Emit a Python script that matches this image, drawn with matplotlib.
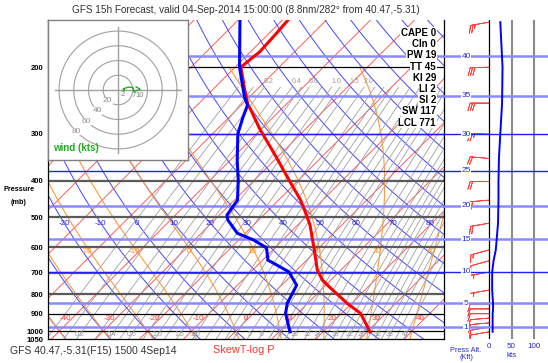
import numpy as np
import matplotlib.pyplot as plt
from matplotlib.ticker import NullLocator

plt.rcParams['font.family'] = ['Liberation Sans', 'DejaVu Sans']

# sounding: pressure (mb), temperature and dewpoint (C)
p_temp = [150, 163, 182, 200, 226, 252, 257, 291, 346, 398, 450, 488, 524, 604,
          690, 733, 763, 845, 898, 954, 1005]
temp = [-58.7, -58.3, -57.9, -58.7, -53.4, -48.5, -47.3, -40.5, -30.3, -22.2, -15.0,
        -10.8, -7.2, -1.0, 4.7, 8.1, 11.1, 19.0, 24.3, 27.7, 30.6]
p_dew = [150, 200, 240, 252, 271, 300, 353, 398, 450, 493, 508, 551, 574, 602, 649,
         662, 697, 756, 845, 898, 984, 1005]
dewp = [-69.6, -59.0, -51.1, -48.6, -46.9, -44.3, -38.4, -33.7, -29.3, -28.3, -27.0,
        -21.8, -16.6, -11.9, -8.8, -6.7, -1.4, 3.4, 5.4, 7.3, 11.5, 12.5]

# winds
p_wind = [152, 200, 249, 301, 349, 402, 450, 518, 610, 652, 698, 779, 848, 874, 900,
          924, 952, 976, 1005]
wdir = [260, 268, 270, 272, 275, 270, 265, 260, 255, 255, 260, 260, 270, 270, 270,
        265, 265, 260, 260]
wspd = [25, 30, 29, 25, 22, 21, 21, 20, 15, 10, 7, 7, 9, 9, 8, 8, 8, 8, 8]
hodo_label_p = [779, 402, 249]

# indices box
idx_names = ['CAPE', 'CIn', 'PW', 'TT', 'KI', 'LI', 'SI', 'SW', 'LCL']
idx_vals = [0, 0, 19, 45, 29, 2, 2, 117, 771]

p_levels = [200, 300, 400, 500, 600, 700, 800, 900, 1000, 1050]
alt_kft = [1, 5, 10, 15, 20, 25, 30, 35, 40]
isotherm_labels = [-40, -30, -20, -10, 0, 10, 20, 30, 40]
theta_labels = [-20, -10, 0, 10, 20, 30, 40, 50, 60, 70, 80]
thw_labels = [-20, -10, 0, 10, 20, 30, 40]
mix_ratios = [0.1, 0.15, 0.2, 0.3, 0.4, 0.5, 0.6, 0.8, 1.0, 1.2, 1.5, 2.0, 2.5, 3, 3.5,
              4, 5, 6, 7, 8, 9, 10, 12, 14, 16, 18, 20, 22, 24, 26, 29, 32, 35, 38, 42, 47]
mix_labels_bottom = ['0.2', '0.4', '0.6', '1.0', '1.5', '2.0', '4', '5', '6', '7', '8',
                     '10', '12', '14', '18', '22', '26', '32', '38', '47']
mix_labels_top = ['0.1', '0.2', '0.4', '0.6', '1.0', '1.5', '2.0']
hodo_rings = [20, 40, 60, 80]

W, H = 548, 363
fig = plt.figure(figsize=(W / 100, H / 100), dpi=100)


def frect(x0, y0, x1, y1):
    return [x0 / W, 1 - y1 / H, (x1 - x0) / W, (y1 - y0) / H]


K = 164 / 4.41


def skew(t, p):
    return np.asarray(t, dtype=float) + K * np.log(900.0 / np.asarray(p, dtype=float))


def lapse(t, p):
    es = 6.112 * np.exp(17.67 * (t - 273.15) / (t - 29.65))
    rs = 0.622 * es / (p - es)
    return (287.04 * t + 2.501e6 * rs) / (p * (1005.7 + 2.501e6 ** 2 * rs * 0.622 / (287.04 * t * t)))


def integrate(t0, p_from, p_to, step):
    ps = np.arange(p_from, p_to, step, dtype=float)
    ts = [t0]
    for i in range(1, len(ps)):
        p0, dp, t = ps[i - 1], ps[i] - ps[i - 1], ts[-1]
        k1 = lapse(t, p0)
        k2 = lapse(t + k1 * dp, p0 + dp)
        ts.append(t + 0.5 * (k1 + k2) * dp)
    return ps, np.array(ts)


def moist_line(tw):
    pu, tu = integrate(tw + 273.15, 1000, 199, -5)
    pd, td = integrate(tw + 273.15, 1000, 1051, 5)
    return np.concatenate([pd[::-1], pu[1:]]), np.concatenate([td[::-1], tu[1:]]) - 273.15


def dewpoint_of_w(w, p):
    e = w * p / (622.0 + w)
    g = np.log(e / 6.112)
    return 243.5 * g / (17.67 - g)


def alt_to_p(kft):
    return 1013.25 * (1 - 6.8756e-6 * kft * 1000) ** 5.2559


# ---------------- main skew-T
ax = fig.add_axes(frect(48, 20, 444, 339))
ax.set_yscale('log')
ax.set_ylim(1050, 150)
ax.set_xlim(-46.5, 43.3)
ax.set_xticks([])
ax.yaxis.set_minor_locator(NullLocator())
ax.set_yticks(p_levels)
ax.set_yticklabels([str(p) for p in p_levels], fontsize=5.5, fontweight='bold')
ax.tick_params(axis='y', length=0, pad=3)
for s in ax.spines.values():
    s.set_linewidth(0.9)
ax.spines['top'].set_visible(False)

pp = np.geomspace(1050, 150, 80)
for t in range(-130, 60, 10):
    ax.plot(skew(t, [1050, 150]), [1050, 150], color='#ff5c5c', lw=0.7, zorder=1)
for th in range(-60, 170, 10):
    tk = (th + 273.15) * (pp / 1000) ** 0.2857 - 273.15
    ax.plot(skew(tk, pp), pp, color='#4646ff', lw=0.7, zorder=1)
for tw in range(-40, 51, 10):
    mp, mt = moist_line(tw)
    ax.plot(skew(mt, mp), mp, color='#ff9a3c', lw=0.8, zorder=1)
pm = np.geomspace(1050, 226, 40)
for w in mix_ratios:
    ax.plot(skew(dewpoint_of_w(w, pm), pm), pm, color='#a0a0a0', lw=0.6, zorder=1)

for p in [200, 300, 900, 1000]:
    ax.axhline(p, color='black', lw=0.9, zorder=2)
for p in [400, 500, 600, 700, 800]:
    ax.axhline(p, color='#5a5a5a', lw=1.6, zorder=2)

for k in alt_kft:
    dark = k in (10, 25, 30)
    ax.axhline(alt_to_p(k), color='#2020ff' if dark else '#8a8aff',
               lw=1.0 if dark else 1.8, zorder=2)

# labels of background lines
for t in isotherm_labels:
    ax.text(skew(t, 924) - 0.2, 924, str(t), color='#ff3030', fontsize=5.8,
            ha='right', va='center', zorder=3)
for th in theta_labels:
    tk = (th + 273.15) * (518 / 1000) ** 0.2857 - 273.15
    ax.text(skew(tk, 518), 518, str(th), color='#2626e0', fontsize=5.8,
            ha='center', va='center', zorder=3)
for tw in thw_labels:
    mp, mt = moist_line(tw)
    tl = np.interp(614, mp[::-1], mt[::-1])
    ax.text(skew(tl, 614) - 0.6, 614, str(tw), color='#ff8c1a', fontsize=5.8,
            ha='center', va='center', zorder=3)
for lab in mix_labels_bottom:
    w = float(lab)
    ax.text(skew(dewpoint_of_w(w, 1022), 1022), 1022, lab, color='#9a9a9a',
            fontsize=5, ha='center', va='center', zorder=3, clip_on=True)
for lab in mix_labels_top:
    w = float(lab)
    ax.text(skew(dewpoint_of_w(w, 218), 218), 218, lab, color='#9a9a9a',
            fontsize=5, ha='center', va='center', zorder=3, clip_on=True)

ax.plot(skew(temp, p_temp), p_temp, color='#ff0000', lw=2.2, zorder=4)
ax.plot(skew(dewp, p_dew), p_dew, color='#0000ff', lw=2.2, zorder=4)

# ---------------- wind panel
ax2 = fig.add_axes(frect(444, 20, 548, 339))
ax2.set_yscale('log')
ax2.set_ylim(1050, 150)
ax2.set_xlim(-100, 131)
ax2.axis('off')
ax2.axvline(0, color='black', lw=0.9)
ax2.axvline(50, color='#8a8a8a', lw=1.5)
ax2.axvline(100, color='#8a8a8a', lw=1.5)
for k in alt_kft:
    dark = k in (10, 25, 30)
    pk = alt_to_p(k)
    ax2.axhline(pk, color='#2020ff' if dark else '#8a8aff', lw=1.0 if dark else 1.8)
    ax2.text(-51, pk, str(k), color='#2a2acc', fontsize=6, ha='center', va='center',
             bbox=dict(fc='white', ec='none', pad=0.3))
rad = np.deg2rad(wdir)
u = -np.array(wspd) * np.sin(rad)
v = -np.array(wspd) * np.cos(rad)
ax2.barbs(np.zeros(len(p_wind)), p_wind, u, v, length=5.2, color='#ff4444', lw=0.6,
          flip_barb=True)
ax2.plot(wspd, p_wind, color='#0000ff', lw=1.4)

bt = ax2.get_xaxis_transform()
for s in [0, 50, 100]:
    ax2.text(s, -0.012, str(s), color='#2a2acc', fontsize=5.8, ha='center', va='top',
             transform=bt)
ax2.text(50, -0.042, 'kts', color='#2a2acc', fontsize=5.8, ha='center', va='top', transform=bt)
ax2.text(-51, -0.024, 'Press Alt.', color='#2a2acc', fontsize=5.3, ha='center', va='top',
         transform=bt)
ax2.text(-51, -0.048, '(Kft)', color='#2a2acc', fontsize=5.3, ha='center', va='top',
         transform=bt)

# ---------------- hodograph
axh = fig.add_axes(frect(48, 20, 188, 160))
axh.set_xlim(-95, 95)
axh.set_ylim(-95, 95)
axh.set_xticks([])
axh.set_yticks([])
for s in axh.spines.values():
    s.set_color('#808080')
    s.set_linewidth(1)
ang = np.linspace(0, 2 * np.pi, 200)
for r in hodo_rings:
    axh.plot(r * np.cos(ang), r * np.sin(ang), color='#a0a0a0', lw=0.8)
axh.plot([-85, 85], [0, 0], color='#a0a0a0', lw=1)
axh.plot([0, 0], [-85, 85], color='#a0a0a0', lw=1)
for r in hodo_rings:
    axh.text(-0.707 * r, -0.707 * r, str(r), color='#909090', fontsize=6, ha='center',
             va='center', bbox=dict(fc='white', ec='none', pad=0.2))
order = np.argsort(p_wind)[::-1]
axh.plot(u[order], v[order], color='#22aa22', lw=1)
for pl in hodo_label_p:
    i = p_wind.index(pl)
    z = 44.33 * (1 - (pl / 1013.25) ** 0.1903)
    axh.text(u[i], v[i] - 3, str(int(round(z))), color='#808080', fontsize=5.5,
             ha='center', va='top')
axh.text(-88, -86, 'wind (kts)', color='#22aa22', fontsize=7, fontweight='bold',
         ha='left', va='bottom')

# ---------------- texts
for i, (n, val) in enumerate(zip(idx_names, idx_vals)):
    fig.text(436 / W, 1 - (33 + i * 11.2) / H, f'{n} {val}', ha='right', va='center',
             fontsize=7, fontweight='bold', bbox=dict(fc='white', ec='none', pad=0.4))
fig.text(246 / W, 1 - 10 / H,
         'GFS 15h Forecast, valid 04-Sep-2014 15:00:00 (8.8nm/282\u00b0 from 40.47,-5.31)',
         ha='center', va='center', fontsize=7.2, color='#333333')
fig.text(10 / W, 1 - 351 / H, 'GFS 40.47,-5.31(F15) 1500 4Sep14', ha='left', va='center',
         fontsize=7.5, color='#333333')
fig.text(213 / W, 1 - 350 / H, 'SkewT-log P', ha='left', va='center', fontsize=7.8,
         color='#ff3333')
fig.text(19 / W, 1 - 190 / H, 'Pressure', ha='center', va='center', fontsize=5.2,
         fontweight='bold')
fig.text(19 / W, 1 - 203 / H, '(mb)', ha='center', va='center', fontsize=5.2,
         fontweight='bold')

fig.savefig('out.png', dpi=100)
